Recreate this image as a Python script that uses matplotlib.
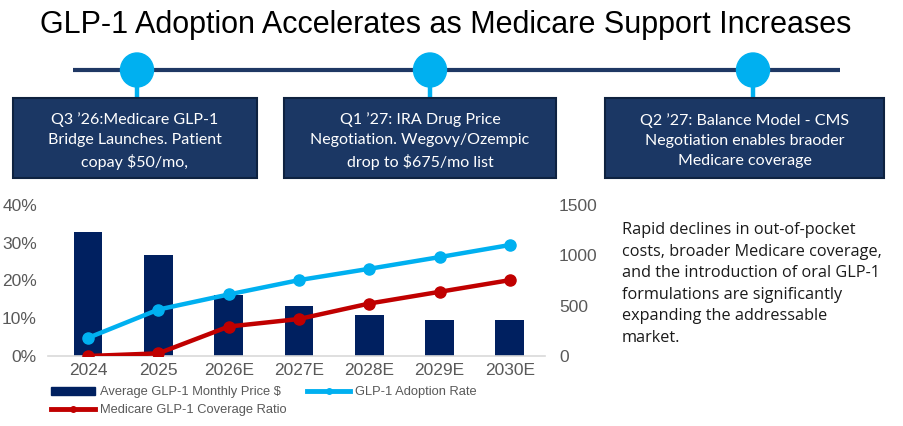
import matplotlib
matplotlib.use("Agg")
import matplotlib.pyplot as plt
from matplotlib.patches import Ellipse, Rectangle
from matplotlib.lines import Line2D
from matplotlib.ticker import FuncFormatter, MultipleLocator

# ---- data ----
categories = ["2024", "2025", "2026E", "2027E", "2028E", "2029E", "2030E"]
avg_price = [1230, 1005, 610, 495, 405, 355, 355]
adoption_rate = [0.048, 0.123, 0.163, 0.201, 0.231, 0.262, 0.294]
medicare_coverage = [0.0, 0.007, 0.078, 0.098, 0.139, 0.170, 0.201]
title = "GLP-1 Adoption Accelerates as Medicare Support Increases"
events = [
    "Q3 \u201926:Medicare GLP-1\nBridge Launches. Patient\ncopay $50/mo,",
    "Q1 \u201927: IRA Drug Price\nNegotiation. Wegovy/Ozempic\ndrop to $675/mo list",
    "Q2 \u201927: Balance Model - CMS\nNegotiation enables braoder\nMedicare coverage",
]
note = ("Rapid declines in out-of-pocket\ncosts, broader Medicare coverage,\n"
        "and the introduction of oral GLP-1\nformulations are significantly\n"
        "expanding the addressable\nmarket.")

NAVY = "#002060"
BLUE = "#00B0F0"
RED = "#C00000"
BOXC = "#1B3764"
GRAY = "#595959"

W, H = 904, 426
fig = plt.figure(figsize=(W / 100, H / 100), dpi=100)

# overlay in pixel coords for title/timeline
ov = fig.add_axes([0, 0, 1, 1])
ov.set_xlim(0, W)
ov.set_ylim(H, 0)
ov.axis("off")
ov.text(446, 25, title, ha="center", va="center", fontsize=22,
        family="Liberation Sans", color="#000000")
ov.plot([73, 840], [70, 70], color="#1F3864", lw=3.0, solid_capstyle="butt", zorder=1)
centers = [137, 430, 753]
boxes = [(13, 257), (284, 556), (605, 884)]
for cx, (bx0, bx1), txt in zip(centers, boxes, events):
    ov.plot([cx, cx], [80, 99], color=BLUE, lw=3.2, zorder=1)
    ov.add_patch(Ellipse((cx, 70), 33, 34, color=BLUE, zorder=2))
    ov.add_patch(Rectangle((bx0, 98), bx1 - bx0, 80, facecolor=BOXC,
                           edgecolor="#0E2240", lw=1.5, zorder=2))
    ov.text((bx0 + bx1) / 2, 141, txt, ha="center", va="center", color="white",
            fontsize=11.5, family="Lato", linespacing=1.55, zorder=3)
ov.text(622, 284, note, ha="left", va="center", fontsize=11.7, family="Open Sans",
        color="#1a1a1a", linespacing=1.47)

# ---- chart ----
ax = fig.add_axes([48 / W, (H - 356) / H, (545 - 48) / W, (356 - 205) / H])
ax2 = ax.twinx()
x = list(range(len(categories)))
ax2.bar(x, avg_price, width=0.41, color=NAVY, zorder=1,
        label="Average GLP-1 Monthly Price $")
ax2.set_ylim(0, 1500)
ax2.yaxis.set_major_locator(MultipleLocator(500))
ax.set_ylim(0, 0.40)
ax.yaxis.set_major_locator(MultipleLocator(0.10))
ax.yaxis.set_major_formatter(FuncFormatter(lambda v, p: f"{v*100:.0f}%"))
ax.set_zorder(ax2.get_zorder() + 1)
ax.patch.set_visible(False)
ax.plot(x, adoption_rate, color=BLUE, lw=3.2, marker="o", ms=8, zorder=3,
        label="GLP-1 Adoption Rate")
ax.plot(x, medicare_coverage, color=RED, lw=3.2, marker="o", ms=8, zorder=3,
        label="Medicare GLP-1 Coverage Ratio")
ax.set_xlim(-0.57, 6.5)
ax.set_xticks(x)
ax.set_xticklabels(categories)
for a in (ax, ax2):
    for s in a.spines.values():
        s.set_visible(False)
    a.tick_params(length=0, colors=GRAY, labelsize=12.5)
    for lbl in a.get_yticklabels() + a.get_xticklabels():
        lbl.set_family("Liberation Sans")
ax.spines["bottom"].set_visible(True)
ax.spines["bottom"].set_color("#D9D9D9")
ax.spines["bottom"].set_linewidth(1.2)
ax.tick_params(axis="x", pad=5)
ax.tick_params(axis="y", pad=8)
ax2.tick_params(axis="y", pad=10)

h_bar = Rectangle((0, 0), 1, 1, color=NAVY)
h_blue = Line2D([], [], color=BLUE, lw=3.5, marker="o", ms=4)
h_red = Line2D([], [], color=RED, lw=3.5, marker="o", ms=4)
leg = fig.legend([h_bar, h_red, h_blue],
                 ["Average GLP-1 Monthly Price $", "Medicare GLP-1 Coverage Ratio",
                  "GLP-1 Adoption Rate"],
                 loc="upper left", bbox_to_anchor=(45 / W, (H - 380) / H), ncol=2,
                 frameon=False, handlelength=3.4, handleheight=0.6, handletextpad=0.35,
                 columnspacing=1.55, labelspacing=0.42, borderpad=0,
                 prop={"family": "Liberation Sans", "size": 9.3})
for t in leg.get_texts():
    t.set_color(GRAY)

fig.savefig("out.png", dpi=100)
